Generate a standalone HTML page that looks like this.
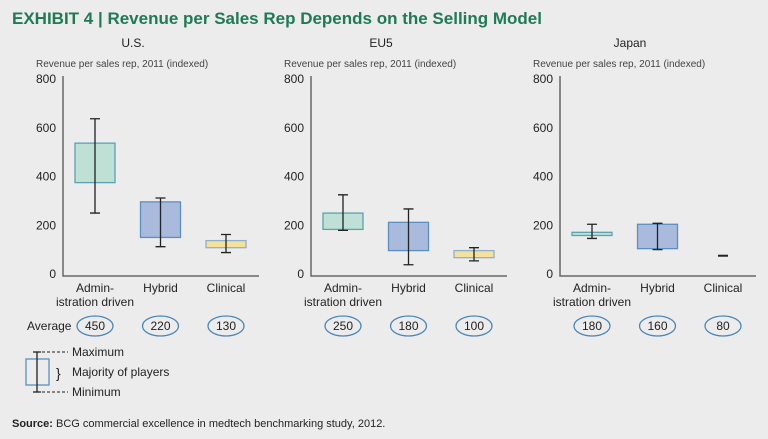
<!DOCTYPE html>
<html><head><meta charset="utf-8"><style>
body{margin:0;background:#ececec;font-family:"Liberation Sans",sans-serif;}
svg{display:block}
</style></head><body>
<svg id="c" width="768" height="439" viewBox="0 0 768 439">
<rect width="768" height="439" fill="#ececec"/>
<text x="12" y="24" font-size="17" font-weight="bold" fill="#1f7a55">EXHIBIT 4 | Revenue per Sales Rep Depends on the Selling Model</text>
<text x="12" y="427" font-size="11" fill="#222"><tspan font-weight="bold">Source:</tspan> BCG commercial excellence in medtech benchmarking study, 2012.</text>
<g>
<rect x="26" y="359" width="23" height="26" fill="none" stroke="#5b8fc0" stroke-width="1.3"/>
<line x1="37" y1="352" x2="37" y2="392" stroke="#222" stroke-width="1.3"/>
<line x1="33" y1="352" x2="41" y2="352" stroke="#222" stroke-width="1.3"/>
<line x1="33" y1="392" x2="41" y2="392" stroke="#222" stroke-width="1.3"/>
<line x1="42" y1="352" x2="68" y2="352" stroke="#222" stroke-dasharray="3,2"/>
<line x1="42" y1="392" x2="68" y2="392" stroke="#222" stroke-dasharray="3,2"/>
<text x="56" y="378" font-size="14" fill="#222">}</text>
<text x="72" y="356" font-size="12" fill="#222">Maximum</text>
<text x="72" y="376" font-size="12" fill="#222">Majority of players</text>
<text x="72" y="396" font-size="12" fill="#222">Minimum</text>
</g>
<text x="27" y="330" font-size="12" fill="#222">Average</text>
</svg>
<script>
const regions=["U.S.","EU5","Japan"];
const categories=["Admin-|istration driven","Hybrid","Clinical"];
const yTicks=[0,200,400,600,800];
const boxLow=[[375,150,108],[183,96,67],[158,104,75]];
const boxHigh=[[537,296,137],[250,212,96],[171,204,75]];
const whiskerMin=[[250,112,88],[179,38,54],[146,100,null]];
const whiskerMax=[[637,312,162],[325,267,108],[204,208,null]];
const averages=[[450,220,130],[250,180,100],[180,160,80]];
const panelX=[63,311,560];
const fills=["#bfe0d5","#a9badd","#f4e19c"];
const strokes=["#5aa3b2","#5b8fc0","#8fb0cc"];
const svg=document.getElementById('c');const NS="http://www.w3.org/2000/svg";
function el(t,a,p){const e=document.createElementNS(NS,t);for(const k in a)e.setAttribute(k,a[k]);(p||svg).appendChild(e);return e;}
const y=v=>274-v*0.2437;
regions.forEach((r,p)=>{
 const x0=panelX[p];const cx=i=>x0+32+i*65.5;
 const g=el('g',{});
 
 
 let t=el('text',{x:x0+70,y:47,'font-size':12,'text-anchor':'middle',fill:'#222'},g);t.textContent=r;
 
 t=el('text',{x:x0-27,y:67,'font-size':10,fill:'#444'},g);t.textContent="Revenue per sales rep, 2011 (indexed)";
 
 yTicks.forEach(v=>{const l=el('text',{x:x0-7,y:y(v)+4,'font-size':12,'text-anchor':'end',fill:'#222'},g);l.textContent=v;
  });
 const ax=el('path',{d:`M${x0} ${y(800)-3}V${y(0)+2}H${x0+196}`,fill:'none',stroke:'#666','stroke-width':1.5},g);
 
 categories.forEach((c,i)=>{
  const X=cx(i);
  const lo=boxLow[p][i],hi=boxHigh[p][i];
  if(hi-lo>0){const b=el('rect',{x:X-20,y:y(hi),width:40,height:Math.max(2,y(lo)-y(hi)),fill:fills[i],stroke:strokes[i],'stroke-width':1.3},g);
   }
  else{const b=el('line',{x1:X-5,x2:X+5,y1:y(lo),y2:y(lo),stroke:'#222','stroke-width':2},g);
   }
  if(whiskerMin[p][i]!=null){
   const a=y(whiskerMax[p][i]),b2=y(whiskerMin[p][i]);
   const w=el('path',{d:`M${X} ${a}V${b2}M${X-5} ${a}H${X+5}M${X-5} ${b2}H${X+5}`,stroke:'#222','stroke-width':1.3,fill:'none'},g);
   
  }
  const parts=c.split('|');
  parts.forEach((s,k)=>{const l=el('text',{x:X,y:292+k*14,'font-size':12,'text-anchor':'middle',fill:'#222'},g);l.textContent=s.replace('|','');
   });
  const e=el('ellipse',{cx:X,cy:326,rx:18,ry:10,fill:'none',stroke:'#4a86b8','stroke-width':1.3},g);
  
  const at=el('text',{x:X,y:330,'font-size':12,'text-anchor':'middle',fill:'#222'},g);at.textContent=averages[p][i];
  
 });
});
</script>
</body></html>
